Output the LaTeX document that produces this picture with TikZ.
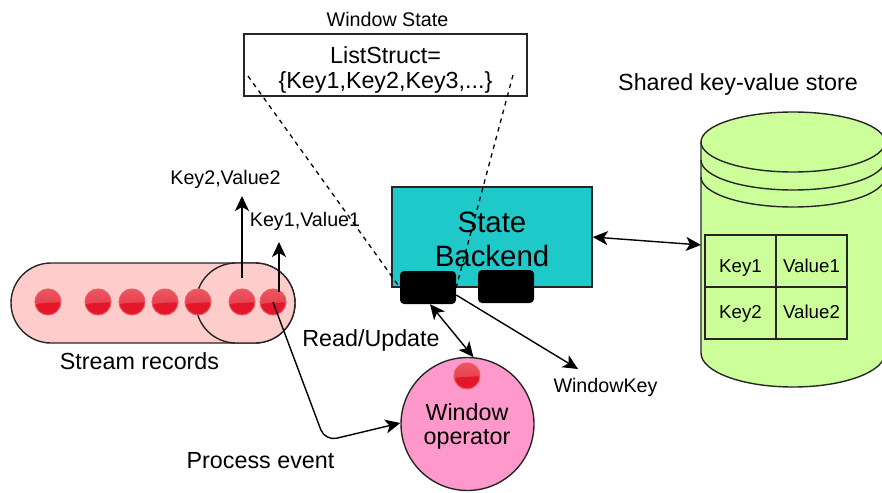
\documentclass[tikz,border=0pt]{standalone}
\usepackage{fontspec}
\setmainfont{Liberation Sans}
\usetikzlibrary{arrows.meta,positioning}
\definecolor{pillpink}{HTML}{FFCCCC}
\definecolor{backendteal}{HTML}{20C9C9}
\definecolor{oppink}{HTML}{FF99CC}
\definecolor{storegreen}{HTML}{CCFF99}
\definecolor{ballred}{HTML}{E4172A}
\definecolor{balltop}{HTML}{E2303F}
\definecolor{balllight}{HTML}{EC5A64}
\definecolor{ballring}{HTML}{E85A62}
\tikzset{
    stream-pill/.style = {draw=black!85, fill=pillpink, line width=1.4pt, rounded corners=40pt},
    record-ball/.style = {circle, draw=ballring, fill=ballred, line width=1pt, minimum size=26pt, inner sep=0pt,
        path picture={\shade[top color=balllight, bottom color=balltop] ([xshift=-15pt]path picture bounding box.center) -- ++(0,15pt) -- ++(30pt,0) -- ++(0,-15pt)
            .. controls +(-8pt,-1pt) and +(8pt,3pt) .. ([xshift=-15pt,yshift=-3pt]path picture bounding box.center) -- cycle;}},
    black-box/.style = {fill=black, rectangle, rounded corners=4pt, minimum width=56pt, minimum height=33pt, inner sep=0pt},
    table-cell/.style = {draw=black!85, line width=1.2pt, rectangle, outer sep=0pt, minimum width=71pt, minimum height=52pt, inner sep=0pt, font=\fontsize{18.7pt}{22pt}\selectfont},
    row-one/.style = {text height=22pt, text depth=0pt},
    row-two/.style = {text height=14pt, text depth=3pt},
    small-label/.style = {inner sep=0pt, font=\fontsize{19.7pt}{23pt}\selectfont},
    big-label/.style = {inner sep=0pt, font=\fontsize{23.3pt}{27pt}\selectfont},
    conn/.style = {draw=black, line width=1.4pt, -{Stealth[length=15pt,width=14pt,inset=4pt]}},
    conn-both/.style = {conn, {Stealth[length=15pt,width=14pt,inset=4pt]}-{Stealth[length=15pt,width=14pt,inset=4pt]}},
    dash-line/.style = {draw=black, line width=1.3pt, dash pattern=on 4.5pt off 4.5pt},
}
\begin{document}
\begin{tikzpicture}[x=1pt,y=-1pt]
\clip (0,0) rectangle (882,492);
% stream
\draw[stream-pill] (11,263) rectangle (295,343);
\draw[stream-pill] (196,263) rectangle (295,343);
\foreach \name/\xpos in {a/48,b/98,c/132,d/165,e/198,f/242,g/273}
    \node[record-ball] (rec-\name) at (\xpos,302) {};
\node[big-label] (stream-label) at (139.5,361) {Stream records};
\node[small-label] (key2-label) at (225.5,179) {Key2,Value2};
\node[small-label] (key1-label) at (305,221) {Key1,Value1};
\coordinate (key2-from) at (242,278);
\coordinate (key2-to) at (242,196);
\coordinate (key1-from) at (279,292);
\coordinate (key1-to) at (279,242);
\draw[conn] (key2-from) -- (key2-to);
\draw[conn] (key1-from) -- (key1-to);

% window state
\node[small-label] (state-title) at (387.5,19) {Window State};
\node[draw=black!85, fill=white, line width=1.4pt, minimum width=283pt, minimum height=62pt, inner sep=0pt] (state-box) at (385.5,65) {};
\node[big-label] at (385.5,55) (list-a) {ListStruct=};
\node[big-label] at (385.5,82) (list-b) {\{Key1,Key2,Key3,...\}};

% backend
\node[draw=black!85, fill=backendteal, line width=1.4pt, minimum width=200pt, minimum height=100pt, inner sep=0pt] (backend) at (492,237) {};
\node[inner sep=0pt, font=\fontsize{29.4pt}{34pt}\selectfont] (backend-a) at (492,222) {State};
\node[inner sep=0pt, font=\fontsize{29.4pt}{34pt}\selectfont] (backend-b) at (492,256) {Backend};
\node[black-box] (slot-a) at (428,287.5) {};
\node[black-box] (slot-b) at (506,286.5) {};
\coordinate (dash-a) at (248,76);
\coordinate (dash-b) at (513,75);
\draw[dash-line] (dash-a) -- (slot-a.west);
\draw[dash-line] (dash-b) -- (slot-a.east);

% operator
\node[circle, draw=black!85, fill=oppink, line width=1.4pt, minimum size=133pt, inner sep=0pt] (operator) at (467.5,424) {};
\node[record-ball] (op-ball) at (467,376) {};
\node[big-label] (op-a) at (467,412) {Window};
\node[big-label] (op-b) at (467,439) {operator};
\node[big-label] (read-label) at (371,340) {Read/Update};
\node[big-label] (event-label) at (260.5,461) {Process event};
\node[small-label] (winkey-label) at (605.5,387) {WindowKey};
\coordinate (winkey-to) at (578,369);
\draw[conn-both] ([xshift=2pt]slot-a.south) -- (operator.85);
\draw[conn] (slot-a.south east |- 0,295) -- (winkey-to);
\draw[conn, rounded corners=12pt] (rec-g.center) -- (325,441) -- (operator.west |- 0,423);

% store
\path[draw=black!85, fill=storegreen, line width=1.4pt] (701,142) arc[start angle=180, end angle=0, x radius=92pt, y radius=30pt]
    -- (885,353) arc[start angle=0, end angle=-180, x radius=92pt, y radius=34pt] -- cycle;
\foreach \yoff in {142,160,177}
    \draw[black!85, line width=1.4pt] (701,\yoff) arc[start angle=180, end angle=360, x radius=92pt, y radius=30pt];
\node[table-cell, row-one] (cell-k1) at (740.5,261) {Key1};
\node[table-cell, row-one, right=0pt of cell-k1] (cell-v1) {Value1};
\node[table-cell, row-two, below=0pt of cell-k1] (cell-k2) {Key2};
\node[table-cell, row-two, right=0pt of cell-k2] (cell-v2) {Value2};
\node[big-label] (store-label) at (738,84) {Shared key-value store};
\draw[conn-both] (backend.east) -- (701,245);
\end{tikzpicture}
\end{document}
